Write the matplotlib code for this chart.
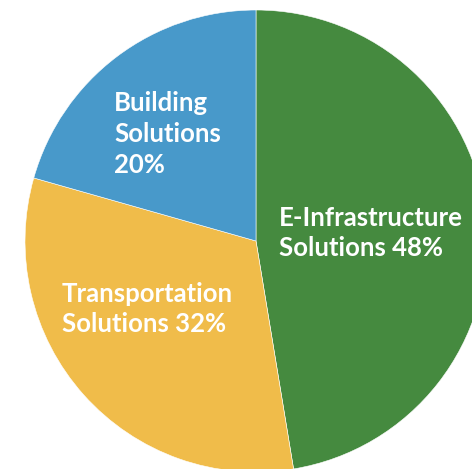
import matplotlib
matplotlib.use("Agg")
import matplotlib.pyplot as plt

categories = ["E-Infrastructure Solutions", "Transportation Solutions", "Building Solutions"]
values = [47.4, 32.0, 20.6]
labels = ["E-Infrastructure\nSolutions 48%", "Transportation\nSolutions 32%", "Building\nSolutions\n20%"]
colors = ["#458A3F", "#F0BC4A", "#4899CA"]

W, H = 472, 469
fig = plt.figure(figsize=(W / 100, H / 100), dpi=100)
ax = fig.add_axes([0, 0, 1, 1])

cx, cy, r = 256, H - 241, 231
ax.pie(values, colors=colors, startangle=90, counterclock=False,
       center=(cx, cy), radius=r, frame=True,
       wedgeprops=dict(edgecolor="white", linewidth=0.4))
ax.set_xlim(0, W)
ax.set_ylim(0, H)
ax.set_aspect("equal")
ax.axis("off")

label_pos = [(279, H - 233), (62, H - 309), (114, H - 134)]
for (x, y), lab in zip(label_pos, labels):
    ax.text(x, y, lab, ha="left", va="center", color="white",
            fontsize=18.5, fontweight="bold", family=["Lato", "DejaVu Sans"],
            linespacing=1.33)

fig.savefig("out.png", dpi=100)
